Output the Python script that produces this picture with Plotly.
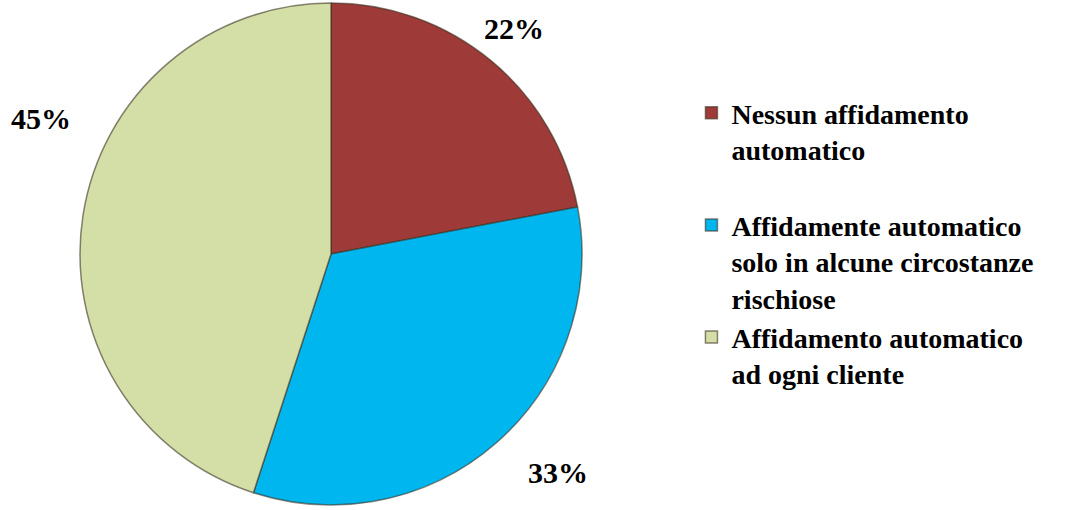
import plotly.graph_objects as go

# Risposte: quota di ciascuna modalità di affidamento
categorie = [
    "Nessun affidamento<br>automatico<br> ",
    "Affidamente automatico<br>solo in alcune circostanze<br>rischiose",
    "Affidamento automatico<br>ad ogni cliente",
]
percentuali = [22, 33, 45]

colori = ["#9E3B38", "#00B6EE", "#D3DFA6"]

# centro dell'etichetta percentuale (pixel nella pagina 1072x510)
pos_etichette = [(514, 28), (558, 472), (41, 118)]

W, H = 1072, 510
SERIF = "Liberation Serif"


def grassetto(testo):
    return "<br>".join(f"<b>{r}</b>" if r.strip() else r for r in testo.split("<br>"))


fig = go.Figure(
    go.Pie(
        labels=[grassetto(c) for c in categorie],
        values=percentuali,
        sort=False,
        direction="clockwise",
        rotation=0,
        marker=dict(colors=colori, line=dict(color="rgba(60,50,35,0.6)", width=1.5)),
        textinfo="none",
        hoverinfo="label+percent",
        domain=dict(x=[72 / W, 590 / W], y=[1 - 505 / H, 1 - 3 / H]),
    )
)

for v, (px, py) in zip(percentuali, pos_etichette):
    fig.add_annotation(
        x=px / W,
        y=1 - py / H,
        xref="paper",
        yref="paper",
        text=f"<b>{v}%</b>",
        showarrow=False,
        xanchor="center",
        yanchor="middle",
        font=dict(family=SERIF, size=30),
    )

fig.update_layout(
    template="none",
    width=W,
    height=H,
    font=dict(family=SERIF, color="#000000"),
    margin=dict(l=0, r=0, t=0, b=0),
    paper_bgcolor="#FFFFFF",
    plot_bgcolor="#FFFFFF",
    showlegend=True,
    legend=dict(
        x=0.645,
        y=1 - 88 / H,
        xanchor="left",
        yanchor="top",
        valign="top",
        font=dict(family=SERIF, size=28),
        itemwidth=30,
        bgcolor="rgba(0,0,0,0)",
    ),
)

fig.write_html("out.html")
